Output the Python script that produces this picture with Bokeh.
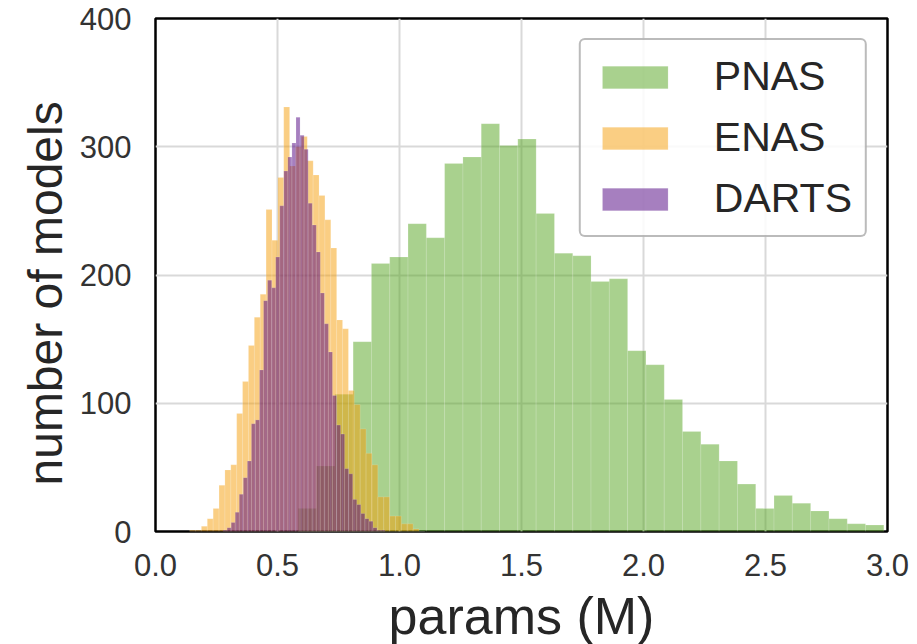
from bokeh.plotting import figure
from bokeh.models import Range1d, FixedTicker, PrintfTickFormatter, Legend, LegendItem, Title
from bokeh.embed import file_html
from bokeh.resources import INLINE

# ---- data ----
series_names = ["PNAS", "ENAS", "DARTS"]

pnas_bin_start = 0.585
pnas_bin_width = 0.075
pnas_counts = [18, 51, 107, 148, 209, 214, 240, 229, 287, 292, 318, 301, 306, 248,
               217, 215, 195, 197, 141, 130, 103, 78, 68, 55, 37, 18, 28, 22, 16,
               10, 6, 5]

enas_bin_start = 0.140
enas_bin_width = 0.0241
enas_counts = [1, 1, 4, 10, 18, 36, 48, 52, 92, 117, 145, 167, 185, 251, 227, 276,
               331, 285, 300, 308, 289, 278, 262, 243, 221, 165, 158, 110, 99, 80,
               61, 52, 27, 27, 12, 12, 6, 6, 2, 0]

darts_bin_start = 0.277
darts_bin_width = 0.0166
darts_counts = [1, 3, 7, 15, 29, 42, 55, 84, 87, 126, 180, 196, 190, 214, 254, 281,
                292, 303, 323, 309, 298, 256, 239, 218, 186, 162, 140, 106, 83, 76,
                49, 45, 25, 21, 14, 10, 8, 3, 1, 1]

x_ticks = [0.0, 0.5, 1.0, 1.5, 2.0, 2.5, 3.0]
y_ticks = [0, 100, 200, 300, 400]

x_title = "params (M)"
y_title = "number of models"

colors = {"PNAS": "#53a31d", "ENAS": "#f59d07", "DARTS": "#4d007f"}
FONT = "Liberation Sans"

p = figure(frame_width=732, frame_height=513,
           x_range=Range1d(0, 3.0), y_range=Range1d(0, 400),
           output_backend="svg", toolbar_location=None,
           min_border_left=155, min_border_right=28, min_border_top=18,
           min_border_bottom=90)

p.background_fill_color = "white"
p.border_fill_color = "white"
p.outline_line_color = "black"
p.outline_line_width = 2.5
p.outline_line_alpha = 1.0

def hist(start, width, counts, name):
    lefts = [start + i * width for i in range(len(counts))]
    rights = [l + width for l in lefts]
    r = p.quad(left=lefts, right=rights, top=counts, bottom=[0] * len(counts),
               fill_color=colors[name], fill_alpha=0.5,
               line_color="white", line_alpha=0.25, line_width=0.6)
    return r

r_pnas = hist(pnas_bin_start, pnas_bin_width, pnas_counts, "PNAS")
r_enas = hist(enas_bin_start, enas_bin_width, enas_counts, "ENAS")
r_darts = hist(darts_bin_start, darts_bin_width, darts_counts, "DARTS")

# axes
for ax in (p.xaxis[0], p.yaxis[0]):
    ax.axis_line_color = None
    ax.major_tick_line_color = None
    ax.minor_tick_line_color = None
    ax.major_label_text_font = FONT
    ax.major_label_text_font_size = "31px"
    ax.major_label_text_color = "#333333"
    ax.axis_label_text_font = FONT
    ax.axis_label_text_font_style = "normal"
    ax.axis_label_text_color = "#262626"

p.xaxis[0].ticker = FixedTicker(ticks=x_ticks)
p.xaxis[0].formatter = PrintfTickFormatter(format="%.1f")
p.yaxis[0].ticker = FixedTicker(ticks=y_ticks)
p.xaxis[0].axis_label = x_title
p.xaxis[0].axis_label_text_font_size = "52px"
p.xaxis[0].major_label_standoff = 16
p.yaxis[0].major_label_standoff = 18
p.xaxis[0].axis_label_standoff = 8

# y title as a side title (the reference places it a little below the frame centre)
ytitle = Title(text=y_title, align="left", offset=46, standoff=10,
               text_font=FONT, text_font_size="48px", text_font_style="normal",
               text_color="#262626")
p.add_layout(ytitle, "left")

p.xgrid[0].ticker = FixedTicker(ticks=x_ticks)
p.ygrid[0].ticker = FixedTicker(ticks=y_ticks)
for g in (p.xgrid[0], p.ygrid[0]):
    g.grid_line_color = "#d9d9d9"
    g.grid_line_width = 2

legend = Legend(items=[LegendItem(label=series_names[0], renderers=[r_pnas]),
                       LegendItem(label=series_names[1], renderers=[r_enas]),
                       LegendItem(label=series_names[2], renderers=[r_darts])],
                location="top_right")
legend.margin = 20
legend.padding = 13
legend.spacing = 14
legend.glyph_width = 82
legend.glyph_height = 28
legend.label_standoff = 38
legend.label_text_font = FONT
legend.label_text_font_size = "41px"
legend.label_text_color = "#262626"
legend.border_line_color = "#777777"
legend.border_line_width = 2
legend.background_fill_color = "white"
legend.background_fill_alpha = 0.85
try:
    legend.border_radius = 6
except Exception:
    pass
p.add_layout(legend)

open("out.html", "w").write(file_html(p, INLINE))
